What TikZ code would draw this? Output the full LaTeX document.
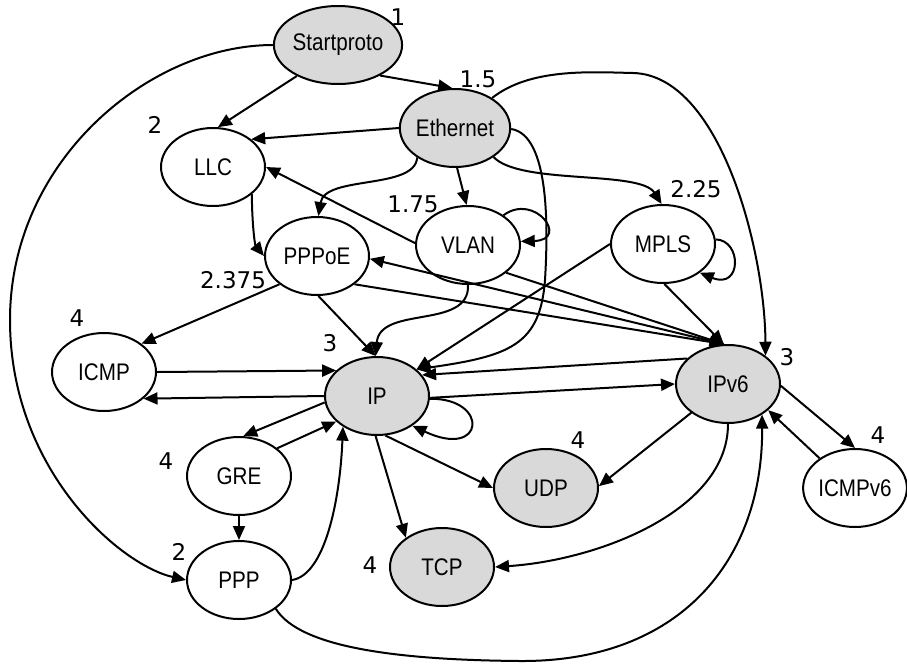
\documentclass[tikz,border=0pt]{standalone}
\usepackage{fontspec}
\usepackage{graphicx}
\usetikzlibrary{shapes.geometric,arrows.meta}
\newfontfamily\nodefont{Liberation Sans}
\newfontfamily\labfont{DejaVu Sans}
\definecolor{nodegray}{RGB}{217,217,217}
\newcommand{\ntxt}[1]{\scalebox{0.86}[1]{#1}}
\tikzset{
  proto/.style={ellipse, draw, line width=2pt, minimum width=104pt, minimum height=78pt, inner sep=0pt, font=\nodefont\fontsize{24}{24}\selectfont},
  filled/.style={proto, fill=nodegray},
  lab/.style={font=\labfont\fontsize{23}{23}\selectfont, inner sep=0pt},
  arr/.style={line width=2pt, -{Triangle[length=14pt,width=12pt]}},
}
\begin{document}
\begin{tikzpicture}[x=1pt,y=-1pt]
\useasboundingbox (0,0) rectangle (907,664);
% nodes
\node[filled] (S) at (338,45) {\ntxt{Startproto}};
\node[filled] (E) at (455,128) {\ntxt{Ethernet}};
\node[proto] (LLC) at (213,167) {\ntxt{LLC}};
\node[proto] (VLAN) at (468,245) {\ntxt{VLAN}};
\node[proto] (MPLS) at (663,244) {\ntxt{MPLS}};
\node[proto] (PPPoE) at (317,256) {\ntxt{PPPoE}};
\node[proto] (ICMP) at (104,372) {\ntxt{ICMP}};
\node[filled] (IP) at (377,396) {\ntxt{IP}};
\node[filled] (IPv6) at (728,384) {\ntxt{IPv6}};
\node[proto] (GRE) at (239,476) {\ntxt{GRE}};
\node[proto] (PPP) at (239,580) {\ntxt{PPP}};
\node[filled] (TCP) at (442,567) {\ntxt{TCP}};
\node[filled] (UDP) at (546,488) {\ntxt{UDP}};
\node[proto, minimum width=101pt] (ICMPv6) at (855,488) {\ntxt{ICMPv6}};
% labels
\node[lab] (lS) at (398,17) {1};
\node[lab] (lE) at (478,79) {1.5};
\node[lab] (lLLC) at (155,125) {2};
\node[lab] (lVLAN) at (413,204) {1.75};
\node[lab] (lMPLS) at (696,189) {2.25};
\node[lab] (lPPPoE) at (233,280) {2.375};
\node[lab] (lICMP) at (77,318) {4};
\node[lab] (lIP) at (330,343) {3};
\node[lab] (lIPv6) at (787,357) {3};
\node[lab] (lGRE) at (166,461) {4};
\node[lab] (lPPP) at (179,552) {2};
\node[lab] (lTCP) at (370,565) {4};
\node[lab] (lUDP) at (578,440) {4};
\node[lab] (lICMPv6) at (878,435) {4};
% edges
\draw[arr] (S.217) -- (LLC.83);
\draw[arr] (S.-36) -- (E.94);
\draw[arr] (S.180) .. controls (150,45) and (10,160) .. (10,320) .. controls (10,470) and (120,565) .. (PPP.180);
\draw[arr] (E.180) -- (LLC.36);
\draw[arr] (E.218) .. controls (415,190) and (325,175) .. (PPPoE.88);
\draw[arr] (E.-87) -- (VLAN.92);
\draw[arr] (E.-37) .. controls (520,185) and (640,170) .. (MPLS.92);
\draw[arr] (E.39) .. controls (530,68) and (590,72) .. (633,73) .. controls (720,75) and (765,250) .. (IPv6.37);
\draw[arr] (E.-1) .. controls (550,135) and (548,230) .. (545,280) .. controls (540,345) and (510,356) .. (IP.34);
\draw[arr] (VLAN.40) .. controls (535,192) and (570,240) .. (VLAN.4);
\draw[arr] (VLAN.178) -- (LLC.0);
\draw[arr] (VLAN.-90) .. controls (470,330) and (380,305) .. (IP.92);
\draw[arr] (VLAN.-36) -- (IPv6.96);
\draw[arr] (MPLS.5) .. controls (742,240) and (742,290) .. (MPLS.-38);
\draw[arr] (MPLS.180) -- (IP.34);
\draw[arr] (MPLS.-88) -- (IPv6.96);
\draw[arr] (IPv6.96) -- (PPPoE.-3);
\draw[arr] (PPPoE.-37) -- (IPv6.96);
\draw[arr] (PPPoE.217) -- (ICMP.37);
\draw[arr] (PPPoE.-88) -- (IP.92);
\draw[arr] (LLC.-35) .. controls (252,225) and (255,245) .. (PPPoE.180);
\draw[arr] (ICMP.0) -- (IP.148);
\draw[arr] (IP.180) -- (ICMP.-34);
\draw[arr] (IPv6.148) -- (IP.25);
\draw[arr] (IP.-2) -- (IPv6.180);
\draw[arr] (IP.-3) .. controls (490,398) and (485,460) .. (IP.-40);
\draw[arr] (IP.187) -- (GRE.84);
\draw[arr] (GRE.36) -- (IP.212);
\draw[arr] (GRE.-90) -- (PPP.90);
\draw[arr] (PPP.0) .. controls (325,575) and (340,500) .. (IP.222);
\draw[arr] (PPP.-38) .. controls (300,648) and (400,660) .. (520,661) .. controls (680,662) and (763,560) .. (IPv6.-42);
\draw[arr] (IP.-92) -- (TCP.141);
\draw[arr] (IP.-78) -- (UDP.180);
\draw[arr] (IPv6.218) -- (UDP.2);
\draw[arr] (IPv6.-90) .. controls (728,510) and (600,560) .. (TCP.0);
\draw[arr] (IPv6.-2) -- (ICMPv6.90);
\draw[arr] (ICMPv6.140) -- (IPv6.-33);
\end{tikzpicture}
\end{document}
